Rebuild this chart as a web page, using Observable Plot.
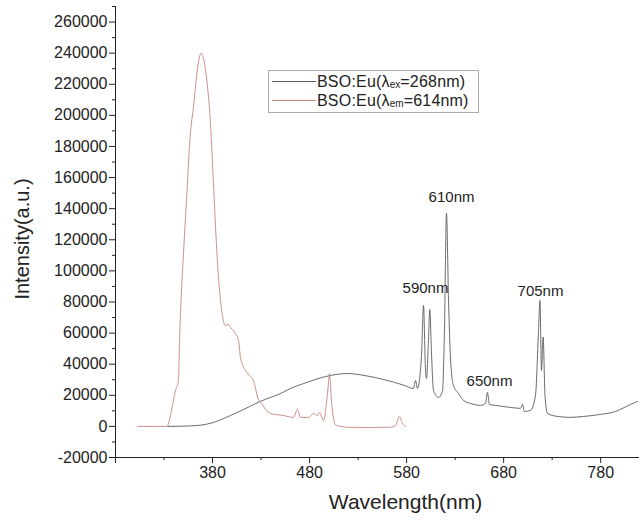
<!DOCTYPE html>
<html>
<head>
<meta charset="utf-8">
<script src="https://cdn.jsdelivr.net/npm/d3@7"></script>
<script src="https://cdn.jsdelivr.net/npm/@observablehq/plot@0.6"></script>
<style>
  body { margin: 0; background: #fff; }
  #wrap { position: relative; width: 639px; height: 526px; font-family: "Liberation Sans", Arial, sans-serif; color: #222; }
  .legend { position: absolute; left: 268px; top: 70px; width: 211px; height: 43px; border: 1px solid #aaa; background: #fff; box-sizing: border-box; }
  .row { position: absolute; left: 0; height: 15px; display: flex; align-items: center; font-size: 16px; line-height: 15px; white-space: nowrap; letter-spacing: 0.2px; }
  .sw { width: 44px; height: 0; border-top: 1px solid; margin: 0 1px 0 3px; }
  .sub { font-size: 10px; line-height: 9px; position: relative; top: 3px; letter-spacing: 0; }
</style>
</head>
<body>
<div id="wrap"></div>
<script>
// Emission spectrum under 268 nm excitation (wavelength nm, intensity a.u.)
const emWavelength = [334, 357, 378, 398.5, 419, 429, 453, 460, 474, 502, 519, 536, 556, 577, 587, 589.2, 591.2, 595.3, 597.4, 599.5, 600.5, 602.5, 603.9, 605.6, 607.7, 612.9, 617, 619, 621.1, 623.2, 625.2, 628.3, 633.5, 638.6, 645.8, 656.1, 661.3, 663.3, 665.4, 671.6, 687, 697.3, 699.4, 701.5, 707.7, 712.8, 715.9, 717.4, 719, 720.7, 722.6, 725.2, 735.5, 748.9, 762.3, 779.8, 795.3, 810.7, 817.9];
const emIntensity  = [0, 300, 2000, 7000, 13000, 16000, 22000, 24300, 27600, 32800, 34000, 32800, 30200, 26500, 24400, 29500, 24400, 45000, 77700, 36000, 30800, 55000, 75100, 48000, 23000, 18600, 23000, 62000, 137000, 81000, 44300, 26300, 21200, 16700, 14800, 13500, 14800, 21800, 14100, 13500, 12200, 11600, 14100, 9600, 10300, 19900, 61000, 81000, 36000, 57500, 19900, 8300, 6400, 5800, 6400, 7700, 9600, 14100, 16000];

// Excitation spectrum monitored at 614 nm
const exWavelength = [302.7, 333.6, 334.6, 338.4, 341.8, 344.9, 346, 347, 350.4, 353.9, 356.6, 360.7, 363.5, 368.3, 371.2, 374.5, 377.9, 381.3, 384.8, 388.2, 393.4, 396.5, 398.5, 403.7, 406.8, 408.8, 414, 419.1, 422.2, 427.4, 429.4, 439.7, 453.1, 463.4, 467.5, 470.6, 478.9, 484, 488.2, 490.2, 494.4, 497.4, 499.5, 500.5, 502.6, 506.7, 511.9, 522.2, 542.8, 563.4, 568.5, 572.6, 575.7, 578.8];
const exIntensity  = [0, 0, 1900, 12400, 23100, 29500, 55200, 72600, 115000, 153500, 183700, 207500, 225000, 240000, 235000, 220300, 194600, 151600, 108500, 81000, 64900, 65500, 63600, 59700, 55200, 44300, 36000, 32000, 29500, 17000, 15500, 8300, 7000, 5800, 11000, 5800, 5800, 8300, 7000, 9000, 3800, 15000, 28000, 34000, 16000, 1000, 0, -600, -700, -500, 500, 6400, 2000, 0];

// Peak annotations
const peakText = ["590nm", "610nm", "650nm", "705nm"];
const peakX    = [599.5, 626.3, 665.4, 718];
const peakY    = [88600, 147700, 28900, 86700];

// Axis ticks
const yMajor = d3.range(-20000, 260001, 20000);
const yMinor = d3.range(-10000, 270001, 20000);
const xMajor = [280, 380, 480, 580, 680, 780];
const xMinor = [330, 430, 530, 630, 730];

const emData = emWavelength.map((x, i) => ({x, y: emIntensity[i]}));
const exData = exWavelength.map((x, i) => ({x, y: exIntensity[i]}));
const peaks = peakText.map((t, i) => ({t, x: peakX[i], y: peakY[i]}));

const font = '"Liberation Sans", Arial, sans-serif';

const chart = Plot.plot({
  width: 639,
  height: 526,
  marginLeft: 115,
  marginRight: 0,
  marginTop: 6,
  marginBottom: 69,
  x: {domain: [280, 820]},
  y: {domain: [-20000, 270000]},
  style: {fontFamily: font, fontSize: "16px", color: "#222", background: "#fff"},
  marks: [
    Plot.axisY(yMajor, {tickSize: 6, tickPadding: 2, fontSize: 16, label: null, tickFormat: d => String(d)}),
    Plot.axisY(yMinor, {tickSize: 3, label: null, tickFormat: () => ""}),
    Plot.axisX(xMajor, {tickSize: 6, tickPadding: 3, fontSize: 16, label: null, tickFormat: d => d === 280 ? "" : String(d)}),
    Plot.axisX(xMinor, {tickSize: 3, label: null, tickFormat: () => ""}),
    Plot.ruleX([280], {stroke: "#222"}),
    Plot.ruleY([-20000], {stroke: "#222"}),
    Plot.line(emData, {x: "x", y: "y", stroke: "#5a5a5a", strokeWidth: 0.9, curve: "monotone-x"}),
    Plot.line(exData, {x: "x", y: "y", stroke: "#c98282", strokeWidth: 0.9, curve: "monotone-x"}),
    Plot.text(peaks, {x: "x", y: "y", text: "t", fontSize: 15, fill: "#222"}),
    Plot.text(["Intensity(a.u.)"], {frameAnchor: "left", textAnchor: "middle", rotate: -90, dx: -93, dy: 7, fontSize: 20, fill: "#222"}),
    Plot.text(["Wavelength(nm)"], {frameAnchor: "bottom", dx: 28, dy: 51, fontSize: 21, fill: "#222"})
  ]
});

const wrap = document.getElementById("wrap");
wrap.appendChild(chart);

// Legend box
const legendItems = [
  {color: "#5a5a5a", sub: "ex", value: "=268nm)"},
  {color: "#c98282", sub: "em", value: "=614nm)"}
];
const legend = document.createElement("div");
legend.className = "legend";
legendItems.forEach((item, i) => {
  const row = document.createElement("div");
  row.className = "row";
  row.style.top = (3 + i * 19) + "px";
  row.innerHTML = `<span class="sw" style="border-color:${item.color}"></span><span>BSO:Eu(λ</span><span class="sub">${item.sub}</span><span>${item.value}</span>`;
  legend.appendChild(row);
});
wrap.appendChild(legend);
</script>
</body>
</html>
